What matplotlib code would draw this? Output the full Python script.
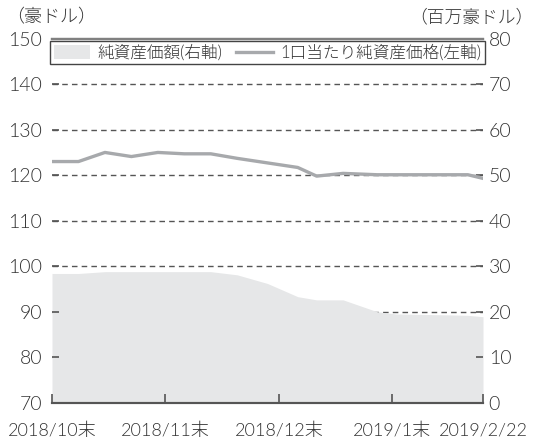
import matplotlib
matplotlib.use("Agg")
import matplotlib.pyplot as plt
from matplotlib.patches import Patch
from matplotlib.lines import Line2D

plt.rcParams['font.family'] = ['Lato', 'Noto Sans CJK JP', 'DejaVu Sans']
plt.rcParams['font.weight'] = 300

# x positions: days since 2018/10/31
days = [0, 7, 14, 21, 28, 35, 42, 49, 57, 65, 70, 77, 86, 91, 98, 105, 110, 114]
# 1口当たり純資産価格 (左軸, 豪ドル)
nav_price = [123.0, 123.0, 125.0, 124.1, 125.0, 124.7, 124.7, 123.7, 122.7, 121.7,
             119.8, 120.4, 120.1, 120.1, 120.1, 120.1, 120.1, 119.3]
# 純資産価額 (右軸, 百万豪ドル)
net_assets = [28.4, 28.4, 28.8, 28.8, 28.8, 28.8, 28.8, 28.1, 26.2, 23.3,
              22.6, 22.6, 20.0, 19.5, 19.4, 19.3, 19.2, 18.9]

xtick_pos = [0, 30, 60, 90, 114]
xtick_labels = ['2018/10末', '2018/11末', '2018/12末', '2019/1末', '2019/2/22']
left_ticks = [70, 80, 90, 100, 110, 120, 130, 140, 150]
right_ticks = [0, 10, 20, 30, 40, 50, 60, 70, 80]

area_color = '#e6e7e8'
line_color = '#a7a9ac'
text_color = '#333333'
axis_color = '#555555'

fig = plt.figure(figsize=(5.34, 4.48), dpi=100)
ax = fig.add_axes([52/534, 1 - 402.7/448, (483-52)/534, (402.7-38.7)/448])
ax2 = ax.twinx()

# area on right scale
ax.fill_between(days, 0, net_assets, color=area_color, lw=0, zorder=2)
ax.set_ylim(0, 80)
ax.set_xlim(0, 114)
ax.hlines(right_ticks[1:-1], 0, 1, transform=ax.get_yaxis_transform(),
          colors=axis_color, linestyles=(0, (4, 3)), lw=1.0, zorder=1)
ax.set_axisbelow(False)

# line on left scale
ax2.plot(days, nav_price, color=line_color, lw=2.4, solid_joinstyle='round', zorder=3)
ax2.set_ylim(70, 150)

ax.yaxis.tick_right()
ax.yaxis.set_label_position('right')
ax2.yaxis.tick_left()
ax2.yaxis.set_label_position('left')

ax.set_yticks(right_ticks)
ax.set_yticklabels([str(v) for v in right_ticks])
ax2.set_yticks(left_ticks)
ax2.set_yticklabels([str(v) for v in left_ticks])

ax.set_xticks(xtick_pos)
ax.set_xticklabels(xtick_labels)

ax.tick_params(axis='y', direction='in', length=5, width=1.2, color=axis_color,
               labelsize=14, labelcolor=text_color, pad=4, right=True, left=False)
ax2.tick_params(axis='y', direction='in', length=5, width=1.2, color=axis_color,
                labelsize=14, labelcolor=text_color, pad=7, left=True, right=False)
ax.tick_params(axis='x', direction='in', length=6.5, width=1.2, color=axis_color,
               labelsize=13, labelcolor=text_color, pad=14)

for a in (ax, ax2):
    a.spines['left'].set_visible(False)
    a.spines['right'].set_visible(False)
    a.spines['bottom'].set_color(axis_color)
    a.spines['bottom'].set_linewidth(1.5)
    a.spines['top'].set_color('#808080')
    a.spines['top'].set_linewidth(1.6)

handles = [Patch(facecolor=area_color, edgecolor='none'),
           Line2D([0], [0], color=line_color, lw=2.4)]
labels = ['純資産価額(右軸)', '1口当たり純資産価格(左軸)']
leg = ax2.legend(handles, labels, ncol=2, loc='upper center',
                 bbox_to_anchor=(0.5, 0.993), fontsize=12, frameon=True,
                 fancybox=False, edgecolor='#444444', framealpha=1,
                 handlelength=2.2, handleheight=0.9, handletextpad=0.45,
                 columnspacing=0.8, borderpad=0.2, borderaxespad=0.0)
leg.get_frame().set_linewidth(1.0)
for t in leg.get_texts():
    t.set_color(text_color)

fig.text(6/534, 1 - 17/448, '（豪ドル）', fontsize=13, color=text_color,
         ha='left', va='center')
fig.text(534/534, 1 - 17/448, '（百万豪ドル）', fontsize=12.8, color=text_color,
         ha='right', va='center')

fig.savefig('out.png', dpi=100)
